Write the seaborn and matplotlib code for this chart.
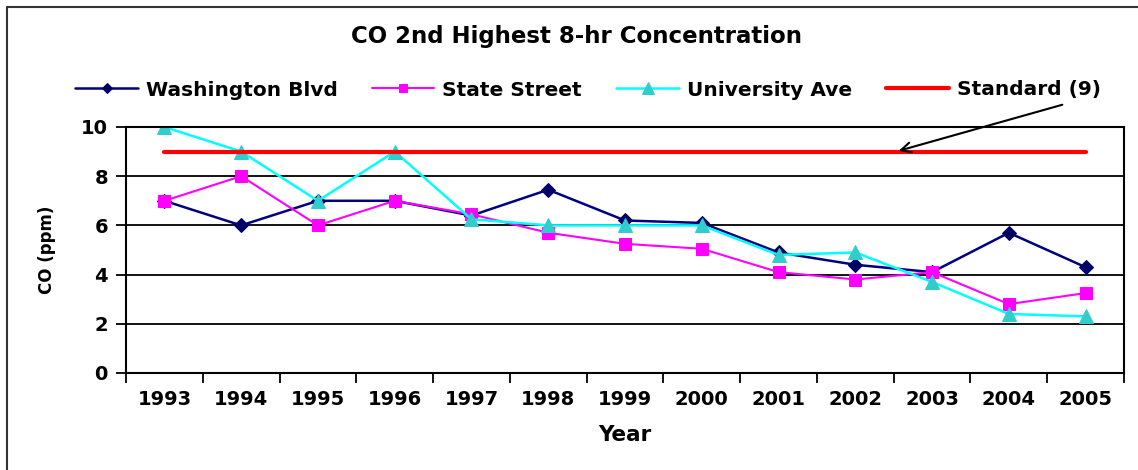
import matplotlib
matplotlib.use('Agg')
from matplotlib import pyplot as plt, ticker
from matplotlib.lines import Line2D
import seaborn as sns
import pandas as pd

years = ['1993', '1994', '1995', '1996', '1997', '1998', '1999',
         '2000', '2001', '2002', '2003', '2004', '2005']
washington_blvd = [7.0, 6.0, 7.0, 7.0, 6.4, 7.45, 6.2, 6.1, 4.9, 4.4, 4.1, 5.7, 4.3]
state_street = [7.0, 8.0, 6.0, 7.0, 6.45, 5.7, 5.25, 5.05, 4.1, 3.8, 4.1, 2.8, 3.25]
university_ave = [10.0, 9.0, 7.0, 9.0, 6.25, 6.0, 6.0, 6.0, 4.8, 4.9, 3.7, 2.4, 2.3]
standard = 9

sns.set_style('white')
plt.rcParams['font.family'] = ['DejaVu Sans']
plt.rcParams['font.weight'] = 'bold'
plt.rcParams['text.color'] = 'black'
plt.rcParams['axes.labelcolor'] = 'black'
plt.rcParams['xtick.color'] = 'black'
plt.rcParams['ytick.color'] = 'black'

df = pd.DataFrame({
    'pos': range(len(years)),
    'Washington Blvd': washington_blvd,
    'State Street': state_street,
    'University Ave': university_ave,
    'Standard (9)': [standard] * len(years),
})

fig = plt.figure(figsize=(11.38, 4.70), dpi=100)
ax = fig.add_axes([126 / 1138, 97 / 470, 998 / 1138, 246 / 470])

sns.lineplot(data=df, x='pos', y='Washington Blvd', ax=ax, color='#000080',
             marker='D', markersize=7, markerfacecolor='#000066',
             markeredgecolor='#000066', linewidth=1.8, label='Washington Blvd')
sns.lineplot(data=df, x='pos', y='State Street', ax=ax, color='#FF00FF',
             marker='s', markersize=8, markeredgecolor='#FF00FF',
             linewidth=1.5, label='State Street')
sns.lineplot(data=df, x='pos', y='University Ave', ax=ax, color='#00FFFF',
             marker='^', markersize=10, markerfacecolor='#33CCCC',
             markeredgecolor='#33CCCC', linewidth=1.8, label='University Ave')
sns.lineplot(data=df, x='pos', y='Standard (9)', ax=ax, color='#FF0000',
             linewidth=3, label='Standard (9)')

ax.set_xlim(-0.5, len(years) - 0.5)
ax.set_ylim(0, 10)
ax.yaxis.set_major_locator(ticker.MultipleLocator(2))
ax.grid(axis='y', color='black', linewidth=1.3)
ax.set_axisbelow(True)

# ticks sit between categories, labels centred on them
ax.xaxis.set_major_locator(ticker.FixedLocator([i - 0.5 for i in range(len(years) + 1)]))
ax.xaxis.set_major_formatter(ticker.NullFormatter())
ax.xaxis.set_minor_locator(ticker.FixedLocator(list(range(len(years)))))
ax.xaxis.set_minor_formatter(ticker.FixedFormatter(years))
ax.tick_params(axis='x', which='major', direction='out', length=7, width=1.3,
               color='black', bottom=True)
ax.tick_params(axis='x', which='minor', length=0, pad=12, labelsize=14)
ax.tick_params(axis='y', direction='out', length=7, width=1.3, color='black',
               left=True, labelsize=14, pad=6)
for s in ax.spines.values():
    s.set_color('black')
    s.set_linewidth(1.5)

ax.set_xlabel('Year', fontsize=15.5, fontweight='bold', labelpad=12)
ax.set_ylabel('CO (ppm)', fontsize=12, fontweight='bold', labelpad=18)

fig.text(577 / 1138, 1 - 37 / 470, 'CO 2nd Highest 8-hr Concentration',
         ha='center', va='center', fontsize=16.5, fontweight='bold')

ax.legend(loc='center', bbox_to_anchor=(588 / 1138, 1 - 90 / 470),
          bbox_transform=fig.transFigure, ncol=4, frameon=False,
          fontsize=14.5, handlelength=3.1, handletextpad=0.4,
          columnspacing=1.7, markerscale=0.8)

ax.annotate('', xy=(9.53, standard), xycoords='data',
            xytext=(1065 / 1138, 1 - 104 / 470), textcoords='figure fraction',
            arrowprops=dict(arrowstyle='->', color='black', lw=1.5,
                            mutation_scale=18))

# outer frame of the original chart box
fig.add_artist(Line2D([7 / 1138, 7 / 1138], [0, 1 - 7 / 470], color='#333333',
                      linewidth=1.5, transform=fig.transFigure))
fig.add_artist(Line2D([7 / 1138, 1], [1 - 7 / 470, 1 - 7 / 470], color='#333333',
                      linewidth=1.5, transform=fig.transFigure))

plt.savefig('out.png', dpi=100)
